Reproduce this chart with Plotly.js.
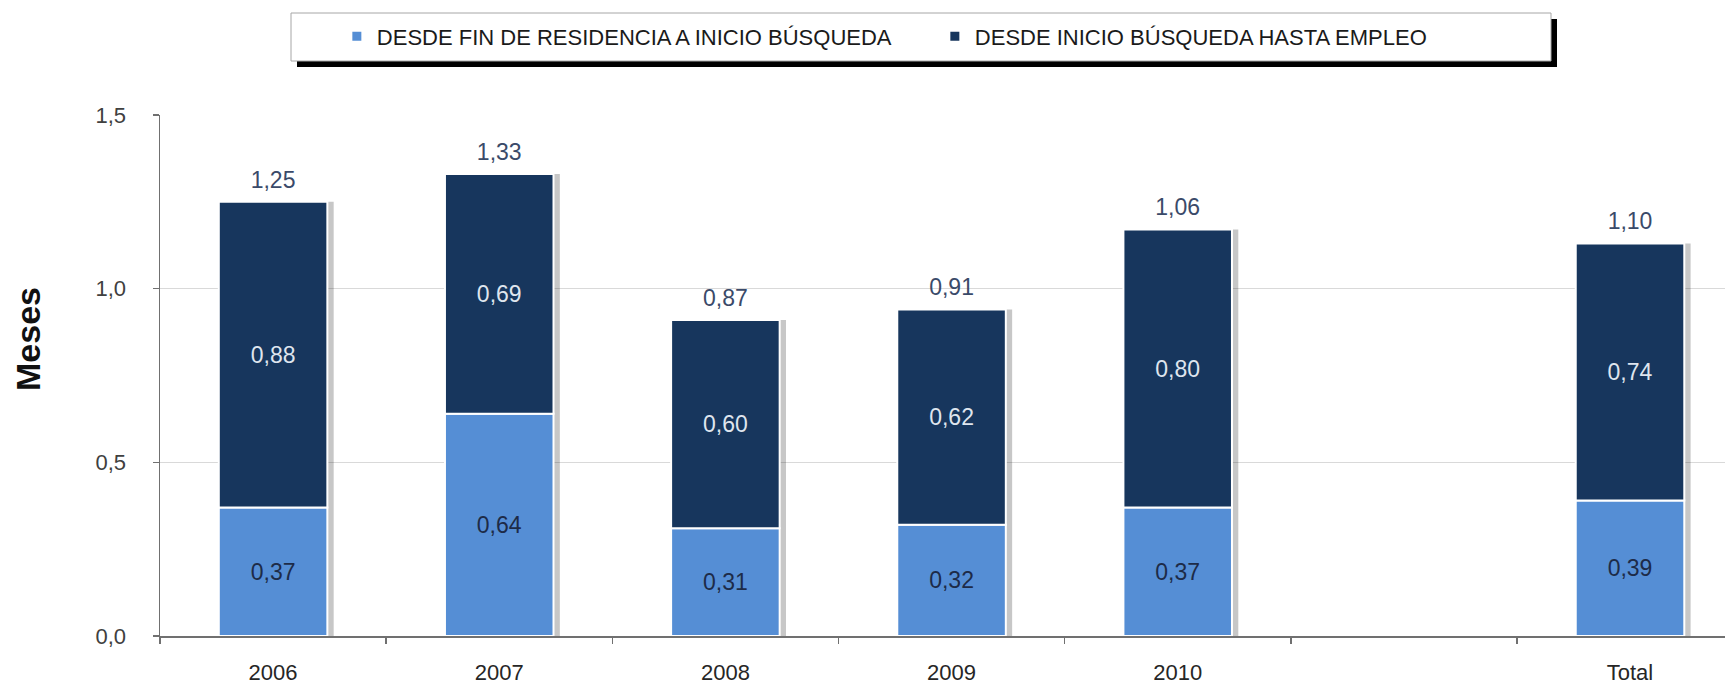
<!DOCTYPE html>
<html>
<head>
<meta charset="utf-8">
<script src="https://cdn.plot.ly/plotly-3.0.1.min.js"></script>
<style>
  html, body { margin: 0; padding: 0; background: #ffffff; }
  #chart { width: 1725px; height: 684px; }
</style>
</head>
<body>
<div id="chart"></div>
<script>
// ---- data ----
const categories = ["2006", "2007", "2008", "2009", "2010", " ", "Total"];
const finResidenciaAInicio = [0.37, 0.64, 0.31, 0.32, 0.37, null, 0.39];
const inicioHastaEmpleo   = [0.88, 0.69, 0.60, 0.62, 0.80, null, 0.74];
const totalLabels         = ["1,25", "1,33", "0,87", "0,91", "1,06", "", "1,10"];
const seriesNames = ["DESDE FIN DE RESIDENCIA A INICIO BÚSQUEDA", "DESDE INICIO BÚSQUEDA HASTA EMPLEO"];

const FONT = "Liberation Sans, Arial, sans-serif";
const LIGHT = "#558ed5";
const DARK = "#17365d";
const BAR_W = 0.48;

function fmt(v) { return v == null ? "" : v.toFixed(2).replace(".", ","); }
const stackTops = finResidenciaAInicio.map((v, i) => (v == null || inicioHastaEmpleo[i] == null) ? null : v + inicioHastaEmpleo[i]);

const traces = [
  { // soft drop shadow behind each stacked bar
    type: "bar", x: categories, y: stackTops, showlegend: false, hoverinfo: "skip",
    width: BAR_W, offset: -BAR_W / 2 + 0.028,
    marker: { color: "rgba(0,0,0,0.22)", line: { width: 0 } }
  },
  {
    type: "bar", x: categories, y: finResidenciaAInicio, name: seriesNames[0], showlegend: false,
    width: BAR_W, offset: -BAR_W / 2,
    marker: { color: LIGHT, line: { color: "#ffffff", width: 2 } },
    text: finResidenciaAInicio.map(fmt), textposition: "inside", insidetextanchor: "middle",
    textfont: { family: FONT, size: 23, color: "#1d2b48" }, constraintext: "none", hoverinfo: "skip"
  },
  {
    type: "bar", x: categories, y: inicioHastaEmpleo, base: finResidenciaAInicio, name: seriesNames[1], showlegend: false,
    width: BAR_W, offset: -BAR_W / 2,
    marker: { color: DARK, line: { color: "#ffffff", width: 2 } },
    text: inicioHastaEmpleo.map(fmt), textposition: "inside", insidetextanchor: "middle",
    textfont: { family: FONT, size: 23, color: "#dfe5ee" }, constraintext: "none", hoverinfo: "skip"
  },
  {
    type: "scatter", mode: "markers+text", x: categories, y: stackTops, text: totalLabels,
    textposition: "top center", marker: { size: 12, opacity: 0 }, cliponaxis: false,
    textfont: { family: FONT, size: 23, color: "#3a4a69" }, showlegend: false, hoverinfo: "skip"
  },
  {
    type: "scatter", mode: "markers", x: [null], y: [null], name: seriesNames[0],
    marker: { symbol: "square", size: 9, color: LIGHT }
  },
  {
    type: "scatter", mode: "markers", x: [null], y: [null], name: seriesNames[1],
    marker: { symbol: "square", size: 9, color: DARK }
  }
];

const layout = {
  width: 1725, height: 684,
  margin: { l: 160, r: 0, t: 115, b: 48, pad: 0 },
  paper_bgcolor: "#ffffff", plot_bgcolor: "rgba(0,0,0,0)",
  separators: ",.",
  barmode: "overlay",
  font: { family: FONT, color: "#262626" },
  xaxis: {
    type: "category", categoryorder: "array", categoryarray: categories,
    range: [-0.5, 6.42], fixedrange: true,
    tickson: "boundaries", ticks: "outside", ticklen: 6, tickwidth: 1.5, tickcolor: "#707070",
    showline: true, linecolor: "#707070", linewidth: 2,
    showgrid: false, zeroline: false,
    tickfont: { family: FONT, size: 22, color: "#262626" }, ticklabelstandoff: 16
  },
  yaxis: {
    range: [0, 1.5], tickvals: [0, 0.5, 1.0, 1.5], tickformat: ".1f",
    ticks: "outside", ticklen: 6, tickwidth: 1.5, tickcolor: "#707070",
    showline: true, linecolor: "#707070", linewidth: 1.5,
    showgrid: true, gridcolor: "#d9d9d9", gridwidth: 1.5, zeroline: false,
    tickfont: { family: FONT, size: 22, color: "#404040" }, ticklabelstandoff: 22
  },
  showlegend: true,
  legend: {
    orientation: "h", traceorder: "normal", x: 0.113, xanchor: "left", y: 1.1507, yanchor: "middle",
    bgcolor: "rgba(0,0,0,0)", borderwidth: 0, entrywidth: 553,
    font: { family: FONT, size: 22, color: "#1a1a1a" }, itemclick: false, itemdoubleclick: false
  },
  shapes: [
    { type: "rect", xref: "paper", yref: "paper", layer: "below",
      x0: (297 - 160) / 1565, x1: (1557 - 160) / 1565, y0: (636 - 67) / 521, y1: (636 - 19) / 521,
      fillcolor: "#000000", line: { width: 0 } },
    { type: "rect", xref: "paper", yref: "paper", layer: "below",
      x0: (291 - 160) / 1565, x1: (1551 - 160) / 1565, y0: (636 - 61) / 521, y1: (636 - 13) / 521,
      fillcolor: "#ffffff", line: { color: "#a6a6a6", width: 1 } }
  ],
  annotations: [
    { text: "Meses", xref: "paper", yref: "paper", x: (28 - 160) / 1565, y: (636 - 339) / 521,
      xanchor: "center", yanchor: "middle", textangle: -90, showarrow: false,
      font: { family: FONT, size: 34, color: "#111111", weight: "bold" } }
  ]
};

Plotly.newPlot("chart", traces, layout, { staticPlot: true, displayModeBar: false });
</script>
</body>
</html>
